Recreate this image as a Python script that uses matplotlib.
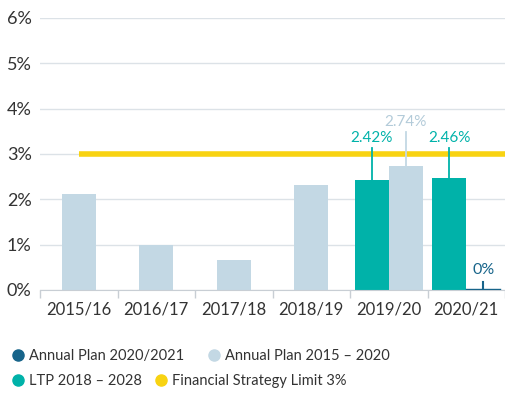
import matplotlib.pyplot as plt
from matplotlib.lines import Line2D
import numpy as np

# data
years = ["2015/16", "2016/17", "2017/18", "2018/19", "2019/20", "2020/21"]
plan_2015_2020 = [2.12, 0.99, 0.66, 2.32, 2.74, None]
ltp_2018_2028 = [None, None, None, None, 2.42, 2.46]
plan_2020_2021 = [None, None, None, None, None, 0.0]
strategy_limit = 3.0
y_ticks = [0, 1, 2, 3, 4, 5, 6]

c_light = "#c3d8e4"
c_teal = "#00b2a9"
c_dark = "#17648a"
c_yellow = "#f8d312"
c_text = "#333333"
c_grid = "#dce2e7"

plt.rcParams['font.family'] = ['Lato', 'DejaVu Sans']

fig = plt.figure(figsize=(5.05, 3.94), dpi=100)
ax = fig.add_axes([40/505, 104/394, 465/505, 272/394])

x = np.arange(len(years))
w = 0.44
off = 0.22

for i in range(len(years)):
    n = sum(v is not None for v in (plan_2015_2020[i], ltp_2018_2028[i], plan_2020_2021[i]))
    if n == 1 and plan_2015_2020[i] is not None:
        ax.bar(x[i], plan_2015_2020[i], w, color=c_light, zorder=3)
        continue
    if ltp_2018_2028[i] is not None:
        v = ltp_2018_2028[i]
        ax.bar(x[i] - off, v, w, color=c_teal, zorder=3)
        ax.plot([x[i] - off]*2, [v, 3.13], color=c_teal, lw=1.3, zorder=4)
        ax.text(x[i] - off, 3.36, f"{v:.2f}%", color=c_teal, ha="center", va="center", fontsize=11)
    if plan_2015_2020[i] is not None:
        v = plan_2015_2020[i]
        ax.bar(x[i] + off, v, w, color=c_light, zorder=3)
        ax.plot([x[i] + off]*2, [v, 3.49], color=c_light, lw=1.3, zorder=4)
        ax.text(x[i] + off, 3.71, f"{v:.2f}%", color="#b3cbd9", ha="center", va="center", fontsize=11)
    if plan_2020_2021[i] is not None:
        v = plan_2020_2021[i]
        ax.plot([x[i] + off - w/2, x[i] + off + w/2], [v + 0.015]*2, color=c_dark, lw=1.0, zorder=6)
        ax.plot([x[i] + off]*2, [v, 0.18], color=c_dark, lw=1.5, zorder=6)
        ax.text(x[i] + off, 0.45, "0%", color=c_dark, ha="center", va="center", fontsize=11.5)

# financial strategy limit
ax.plot([0, 5.6], [strategy_limit]*2, color=c_yellow, lw=4, zorder=2, solid_capstyle="butt")

ax.set_xlim(-0.5, 5.5)
ax.set_ylim(0, 6)
ax.set_yticks(y_ticks)
ax.set_yticklabels([f"{t}%" for t in y_ticks])
ax.yaxis.grid(True, color=c_grid, lw=1, zorder=0)
ax.set_xticks(x)
ax.set_xticklabels(years)
ax.set_xticks(np.arange(-0.5, 5.6, 1), minor=True)
ax.tick_params(axis="x", which="major", length=0, pad=8, labelsize=12, labelcolor=c_text)
ax.tick_params(axis="x", which="minor", length=6, color="#c8ced4", width=1, direction="out")
ax.tick_params(axis="y", length=0, pad=6, labelsize=13, labelcolor=c_text)
for s in ("top", "right", "left"):
    ax.spines[s].set_visible(False)
ax.spines["bottom"].set_color("#c8ced4")
ax.spines["bottom"].set_zorder(5)

def dot(c):
    return Line2D([], [], marker="o", ls="", color=c, markersize=8)

leg1 = fig.legend([dot(c_dark), dot(c_light)], ["Annual Plan 2020/2021", "Annual Plan 2015 \u2013 2020"],
                  ncol=2, loc="center left", bbox_to_anchor=(-2/505, 1 - 356/394), frameon=False,
                  fontsize=10.5, handletextpad=0.25, columnspacing=1.5, handlelength=1.0)
for t in leg1.get_texts():
    t.set_color(c_text)
leg2 = fig.legend([dot(c_teal), dot(c_yellow)], ["LTP 2018 \u2013 2028", "Financial Strategy Limit 3%"],
                  ncol=2, loc="center left", bbox_to_anchor=(-2/505, 1 - 381/394), frameon=False,
                  fontsize=10.5, handletextpad=0.25, columnspacing=0.8, handlelength=1.0)
for t in leg2.get_texts():
    t.set_color(c_text)

fig.savefig("out.png", dpi=100)
